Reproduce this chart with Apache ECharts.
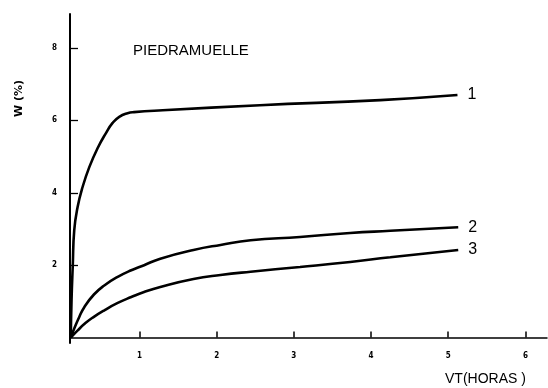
<!DOCTYPE html>
<html><head><meta charset="utf-8">
<script src="https://cdn.jsdelivr.net/npm/echarts@6/dist/echarts.min.js"></script>
<style>html,body{margin:0;padding:0;background:#fff}#c{width:548px;height:388px}</style>
</head><body><div id="c"></div>
<script>
const title = 'PIEDRAMUELLE';
const xName = 'VT(HORAS )';
const yName = 'W (%)';
const xTicks = [1, 2, 3, 4, 5, 6];
const yTicks = [2, 4, 6, 8];
const curveNames = ['1', '2', '3'];
const curve1 = [[0.11,0],[0.12,1.04],[0.136,2.0],[0.155,2.97],[0.198,3.60],[0.263,4.16],[0.35,4.71],[0.457,5.23],[0.566,5.65],[0.652,5.93],[0.738,6.10],[0.846,6.20],[0.93,6.23],[1.3,6.28],[2.56,6.42],[4.12,6.56],[5.12,6.70]];
const curve2 = [[0.11,0],[0.155,0.25],[0.22,0.57],[0.285,0.84],[0.41,1.19],[0.544,1.44],[0.712,1.67],[0.894,1.86],[1.06,2.0],[1.27,2.18],[1.70,2.42],[2.05,2.56],[2.44,2.69],[3.08,2.78],[3.73,2.89],[4.25,2.95],[5.13,3.05]];
const curve3 = [[0.11,0],[0.2,0.2],[0.3,0.4],[0.4,0.56],[0.55,0.76],[0.712,0.95],[0.894,1.12],[1.06,1.26],[1.27,1.40],[1.70,1.62],[2.05,1.73],[2.44,1.82],[3.08,1.95],[3.73,2.09],[4.25,2.22],[5.13,2.42]];

const chart = echarts.init(document.getElementById('c'), null, {renderer: 'canvas'});
const mk = (name, data) => ({
  type: 'line', name, data, smooth: 0.5, symbol: 'none',
  lineStyle: {color: '#000', width: 2.6},
  endLabel: {show: true, formatter: name, color: '#000', fontSize: 16, fontFamily: 'Liberation Sans', distance: 10}
});
chart.setOption({
  animation: false,
  grid: {left: 70, right: 1, top: 14, bottom: 45, containLabel: false},
  xAxis: {
    type: 'value', min: 0.1, max: 6.28,
    axisLine: {show: true, lineStyle: {color: '#000', width: 1.5}},
    axisTick: {show: true, inside: true, length: 6, customValues: xTicks, lineStyle: {color: '#000', width: 1.5}},
    axisLabel: {customValues: xTicks, color: '#000', fontSize: 8, fontWeight: 'bold', fontFamily: 'DejaVu Sans Condensed', margin: 9},
    splitLine: {show: false}
  },
  yAxis: {
    type: 'value', min: -0.15, max: 8.94,
    axisLine: {show: true, lineStyle: {color: '#000', width: 2}},
    axisTick: {show: true, inside: true, length: 8, customValues: yTicks, lineStyle: {color: '#000', width: 1.3}},
    axisLabel: {customValues: yTicks, color: '#000', fontSize: 8, fontWeight: 'bold', fontFamily: 'DejaVu Sans Condensed', margin: 13},
    splitLine: {show: false}
  },
  graphic: [
    {type: 'text', left: 133, top: 43, style: {text: title, fontSize: 15, fontFamily: 'Liberation Sans', fill: '#000'}},
    {type: 'text', left: 445, top: 372, style: {text: xName, fontSize: 14, fontFamily: 'Liberation Sans', fill: '#000'}},
    {type: 'text', x: 14, y: 117, rotation: Math.PI/2, style: {text: yName, fontSize: 11, fontWeight: 'bold', fontFamily: 'DejaVu Sans', fill: '#000'}}
  ],
  series: [mk(curveNames[0], curve1), mk(curveNames[1], curve2), mk(curveNames[2], curve3)]
});
</script></body></html>
